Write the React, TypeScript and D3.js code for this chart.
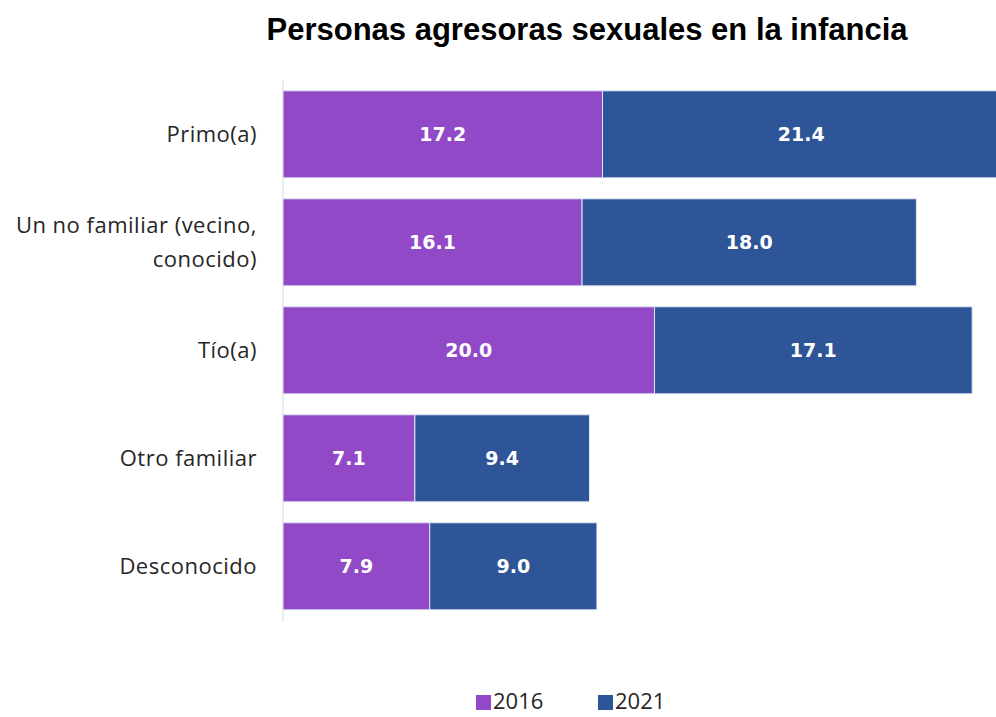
import React from "react";
import * as d3 from "d3";

const categories = ["Primo(a)", "Un no familiar (vecino, conocido)", "Tío(a)", "Otro familiar", "Desconocido"];
const labelLines = [["Primo(a)"], ["Un no familiar (vecino,", "conocido)"], ["Tío(a)"], ["Otro familiar"], ["Desconocido"]];
const series2016 = [17.2, 16.1, 20.0, 7.1, 7.9];
const series2021 = [21.4, 18.0, 17.1, 9.4, 9.0];
const seriesNames = ["2016", "2021"];
const colors = ["#9149C8", "#2E5597"];

export default function App() {
  const W = 996, H = 717;
  const x = d3.scaleLinear().domain([0, 38.6]).range([283, 1000]);
  const y = d3.scaleBand<string>().domain(categories).range([80, 620.6]).paddingInner(0.194).paddingOuter(0.1);
  const stacked = categories.map((c, i) => {
    const a = series2016[i], b = series2021[i];
    return [
      { key: 0, x0: 0, x1: a, v: a },
      { key: 1, x0: a, x1: a + b, v: b },
    ];
  });
  return (
    <svg width={W} height={H} style={{ position: "absolute", left: 0, top: 0, background: "#fff" }}>
      <text x={587} y={40} textAnchor="middle" fontFamily="Liberation Sans, Arial, sans-serif" fontWeight="bold" fontSize={31} fill="#000">
        Personas agresoras sexuales en la infancia
      </text>
      <line x1={283} x2={283} y1={80} y2={622} stroke="#d9d9d9" strokeWidth={1} />
      {categories.map((c, i) => {
        const by = y(c)!;
        const bh = y.bandwidth();
        const lines = labelLines[i];
        const cy = by + bh / 2;
        return (
          <g key={c}>
            {stacked[i].map((s) => (
              <g key={s.key}>
                <rect x={x(s.x0)} y={by} width={x(s.x1) - x(s.x0)} height={bh} fill={colors[s.key]} stroke="#dfe6f2" strokeWidth={1} />
                <text x={(x(s.x0) + x(s.x1)) / 2} y={cy} dy="0.36em" textAnchor="middle" fill="#fff" fontFamily="DejaVu Sans, Verdana, sans-serif" fontWeight="bold" fontSize={19}>
                  {s.v.toFixed(1)}
                </text>
              </g>
            ))}
            {lines.map((l, j) => (
              <text key={j} x={257} y={cy + (j - (lines.length - 1) / 2) * 34} dy="0.35em" textAnchor="end" fill="#262626" fontFamily="Open Sans, sans-serif" fontSize={22} letterSpacing={0.5}>
                {l}
              </text>
            ))}
          </g>
        );
      })}
      {seriesNames.map((n, i) => (
        <g key={n} transform={`translate(${[476, 598][i]},0)`}>
          <rect x={0} y={695} width={15} height={15} fill={colors[i]} />
          <text x={17} y={709} fill="#262626" fontFamily="Open Sans, sans-serif" fontSize={22}>{n}</text>
        </g>
      ))}
    </svg>
  );
}
